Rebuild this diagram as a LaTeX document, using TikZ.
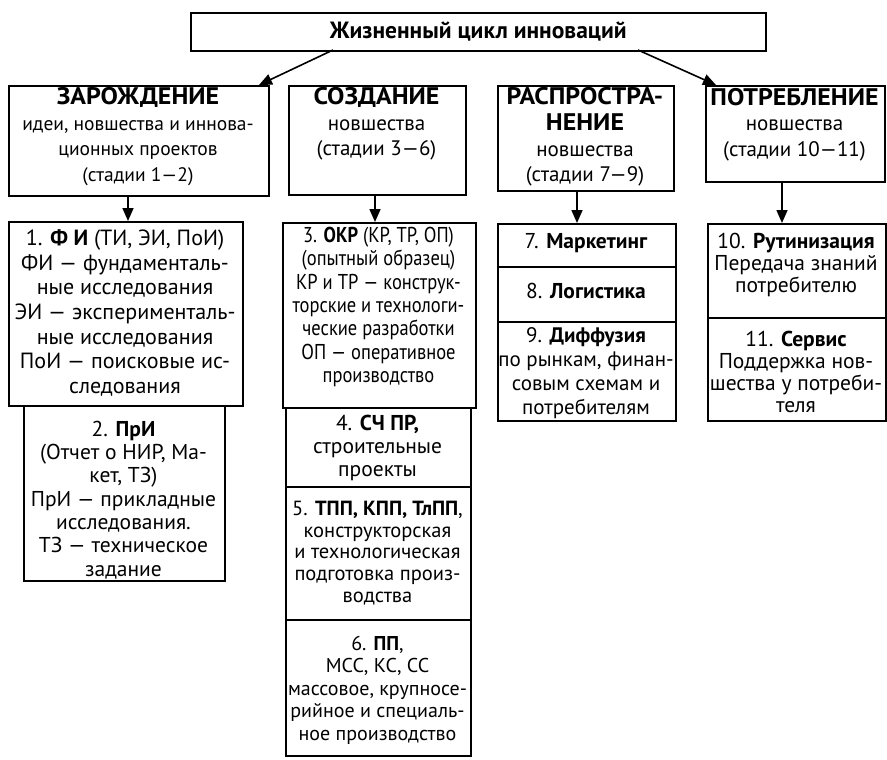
\documentclass[tikz,border=0pt]{standalone}
\usepackage{fontspec}
\setmainfont{PT Sans}
\newfontfamily\narrowfont{PT Sans}[FakeStretch=0.86]
\newfontfamily\widefont{PT Sans}[FakeStretch=1.08]
\usetikzlibrary{arrows.meta}

\begin{document}
\begin{tikzpicture}[x=1pt,y=-1pt,
  frame/.style={draw, line width=1.6pt, inner sep=0pt, anchor=north west},
  body/.style={font=\fontsize{21.5}{23.3}\selectfont, align=center, inner sep=0pt},
  sub/.style={font=\fontsize{21}{25.5}\selectfont, align=center, inner sep=0pt},
  head/.style={font=\widefont\fontsize{24}{26}\selectfont\bfseries, align=center, inner sep=0pt},
  arr/.style={-{Triangle[length=13pt,width=11pt]}, line width=1.6pt},
  sep/.style={line width=1.6pt}
]
\useasboundingbox (0,0) rectangle (887,760);

% --- top box
\node[frame, minimum width=575pt, minimum height=38pt] (top) at (190,12) {};
\node[font=\fontsize{23.5}{26}\selectfont\bfseries, inner sep=0pt] (toptxt) at (top.center) {Жизненный цикл инноваций};

% --- phase boxes
\node[frame, minimum width=260pt, minimum height=110pt] (A) at (8,85) {};
\node[frame, minimum width=177pt, minimum height=109pt] (B) at (288,85) {};
\node[frame, minimum width=176pt, minimum height=105pt] (C) at (497,85) {};
\node[frame, minimum width=179pt, minimum height=96pt] (D) at (705,85) {};

\node[head] (Ah) at (138,97) {ЗАРОЖДЕНИЕ};
\node[sub, font=\fontsize{19.5}{25.5}\selectfont] (As) at (138,153) {идеи, новшества и иннова-\\ционных проектов\\(стадии 1—2)};
\node[head] (Bh) at (376.5,97) {СОЗДАНИЕ};
\node[sub] (Bs) at (376.5,140) {новшества\\(стадии 3—6)};
\node[head] (Ch) at (585,109) {РАСПРОСТРА-\\НЕНИЕ};
\node[sub] (Cs) at (585,166) {новшества\\(стадии 7—9)};
\node[head] (Dh) at (794.5,97) {ПОТРЕБЛЕНИЕ};
\node[sub] (Ds) at (794.5,140.5) {новшества\\(стадии 10—11)};

% --- stage boxes
\node[frame, minimum width=234pt, minimum height=184pt] (S1) at (8,221) {};
\node[frame, minimum width=201pt, minimum height=175pt] (S2) at (23,405) {};
\node[frame, minimum width=193pt, minimum height=185pt] (S3) at (282,222) {};
\node[frame, minimum width=185pt, minimum height=348pt] (S46) at (285,407) {};
\node[frame, minimum width=178pt, minimum height=197pt] (S79) at (497,223) {};
\node[frame, minimum width=178pt, minimum height=197pt] (S1011) at (707,223) {};

% separators inside the stacked boxes
\coordinate (s45) at (0,487);
\coordinate (s56) at (0,620);
\coordinate (s78) at (0,267);
\coordinate (s89) at (0,322);
\coordinate (s1011) at (0,318);
\draw[sep] (S46.west |- s45) -- (S46.east |- s45);
\draw[sep] (S46.west |- s56) -- (S46.east |- s56);
\draw[sep] (S79.west |- s78) -- (S79.east |- s78);
\draw[sep] (S79.west |- s89) -- (S79.east |- s89);
\draw[sep] (S1011.west |- s1011) -- (S1011.east |- s1011);

% stage texts
\node[body, font=\fontsize{22}{24.6}\selectfont] (t1) at (125,313) {1. \textbf{Ф И} (ТИ, ЭИ, ПоИ)\\ФИ — фундаменталь-\\ные исследования\\ЭИ — эксперименталь-\\ные исследования\\ПоИ — поисковые ис-\\следования};
\node[body] (t2) at (123.5,500) {2. \textbf{ПрИ}\\(Отчет о НИР, Ма-\\кет, ТЗ)\\ПрИ — прикладные\\исследования.\\ТЗ — техническое\\задание};
\node[body, font=\narrowfont\fontsize{21.5}{23.3}\selectfont] (t3) at (378.5,307) {3. \textbf{ОКР} (КР, ТР, ОП)\\(опытный образец)\\КР и ТР — конструк-\\торские и технологи-\\ческие разработки\\ОП — оперативное\\производство};
\node[body] (t4) at (377.5,448) {4. \textbf{СЧ ПР,}\\строительные\\проекты};
\node[body, font=\fontsize{20.5}{21.8}\selectfont] (t5) at (377.5,553) {5. \textbf{ТПП, КПП, ТлПП},\\конструкторская\\и технологическая\\подготовка произ-\\водства};
\node[body, font=\fontsize{20}{22.5}\selectfont] (t6) at (377.5,690) {6. \textbf{ПП},\\МСС, КС, СС\\массовое, крупносе-\\рийное и специаль-\\ное производство};
\node[body] (t7) at (586,243) {7. \textbf{Маркетинг}};
\node[body] (t8) at (586,291) {8. \textbf{Логистика}};
\node[body, font=\fontsize{21}{24}\selectfont] (t9) at (586,373) {9. \textbf{Диффузия}\\по рынкам, финан-\\совым схемам и\\потребителям};
\node[body, font=\fontsize{21.5}{21.6}\selectfont] (t10) at (796,265) {10. \textbf{Рутинизация}\\Передача знаний\\потребителю};
\node[body, font=\fontsize{21.5}{22}\selectfont] (t11) at (796,372) {11. \textbf{Сервис}\\Поддержка нов-\\шества у потреби-\\теля};

% --- connectors
\coordinate (tl) at (333,50);
\coordinate (tr) at (638,50);
\draw[arr] (tl) -- (259,85);
\draw[arr] (tr) -- (716,85);
\draw[arr] (A.south -| 128,0) -- (S1.north -| 128,0);
\draw[arr] (B.south -| 375,0) -- (S3.north -| 375,0);
\draw[arr] (C.south -| 577,0) -- (S79.north -| 577,0);
\draw[arr] (D.south -| 782,0) -- (S1011.north -| 782,0);
\end{tikzpicture}
\end{document}
